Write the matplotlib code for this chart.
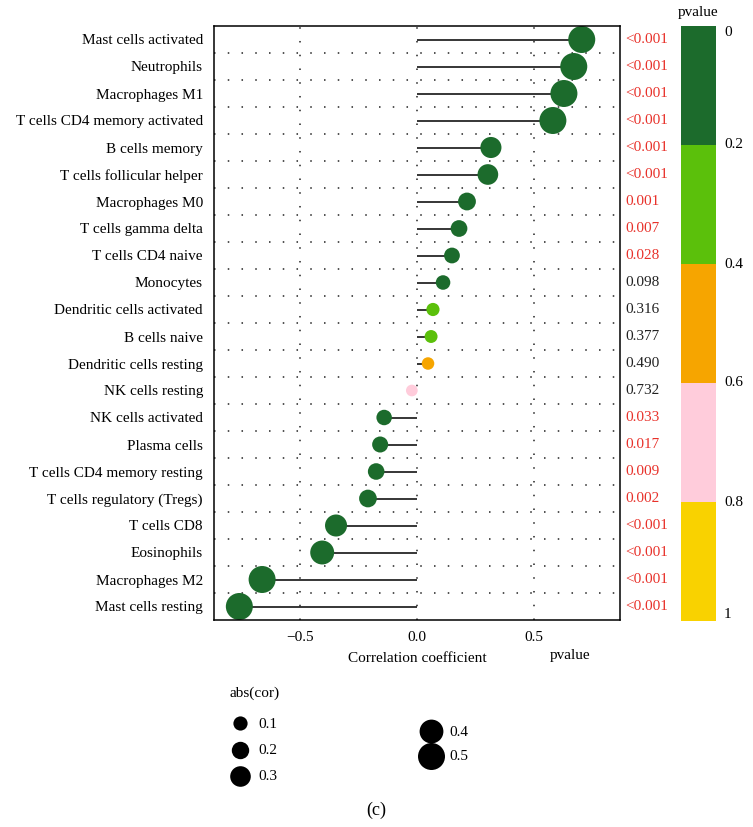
import numpy as np
import matplotlib.pyplot as plt
from matplotlib.colors import ListedColormap, BoundaryNorm

plt.rcParams["font.family"] = ["Liberation Serif", "DejaVu Serif"]

cells = [
    "Mast cells activated", "Neutrophils", "Macrophages M1",
    "T cells CD4 memory activated", "B cells memory", "T cells follicular helper",
    "Macrophages M0", "T cells gamma delta", "T cells CD4 naive", "Monocytes",
    "Dendritic cells activated", "B cells naive", "Dendritic cells resting",
    "NK cells resting", "NK cells activated", "Plasma cells",
    "T cells CD4 memory resting", "T cells regulatory (Tregs)", "T cells CD8",
    "Eosinophils", "Macrophages M2", "Mast cells resting",
]
cor = [0.702, 0.668, 0.626, 0.579, 0.315, 0.302, 0.213, 0.179, 0.149, 0.111,
       0.068, 0.060, 0.047, -0.022, -0.140, -0.157, -0.174, -0.209, -0.345,
       -0.404, -0.660, -0.757]
pvalue = [0.0005, 0.0005, 0.0005, 0.0005, 0.0005, 0.0005, 0.001, 0.007, 0.028,
          0.098, 0.316, 0.377, 0.490, 0.732, 0.033, 0.017, 0.009, 0.002,
          0.0005, 0.0005, 0.0005, 0.0005]
ptext = ["<0.001", "<0.001", "<0.001", "<0.001", "<0.001", "<0.001", "0.001",
         "0.007", "0.028", "0.098", "0.316", "0.377", "0.490", "0.732", "0.033",
         "0.017", "0.009", "0.002", "<0.001", "<0.001", "<0.001", "<0.001"]

bin_edges = [0, 0.2, 0.4, 0.6, 0.8, 1.0]
bin_colors = ["#1c6b2c", "#5bc00b", "#f6a500", "#ffccdb", "#f9d200"]
size_levels = [0.1, 0.2, 0.3, 0.4, 0.5]

cmap = ListedColormap(bin_colors)
norm = BoundaryNorm(bin_edges, cmap.N)
FS = 11


def dot_size(v):
    # diameter in px -> scatter area in pt^2 (dpi 100)
    d = 11 + 32 * np.minimum(np.abs(v), 0.5)
    return (d * 0.72) ** 2


W, H = 753, 827
fig = plt.figure(figsize=(W / 100, H / 100), dpi=100)
ax = fig.add_axes([214 / W, 1 - 620 / H, 406 / W, 594 / H])

n = len(cells)
y = np.arange(1, n + 1)
dots = (0, (1.0, 8.0))

for xv in [-0.5, 0, 0.5]:
    ax.axvline(xv, color="#222222", lw=1.1, linestyle=dots, zorder=0)
for yb in np.arange(1.5, n, 1):
    ax.axhline(yb, color="#222222", lw=1.1, linestyle=dots, zorder=0)

ax.hlines(y, 0, cor, color="black", lw=1.1, zorder=1)
ax.scatter(cor, y, s=dot_size(np.array(cor)), c=pvalue, cmap=cmap, norm=norm,
           linewidths=0, zorder=2)

ax.set_xlim(-0.865, 0.865)
ax.set_ylim(n + 0.5, 0.5)
ax.set_yticks(y, labels=cells, fontsize=FS)
ax.set_xticks([-0.5, 0, 0.5], labels=["\u22120.5", "0.0", "0.5"], fontsize=FS)
ax.tick_params(length=0, pad=8)
ax.set_xlabel("Correlation coefficient", fontsize=FS, labelpad=6)
for sp in ax.spines.values():
    sp.set_linewidth(1.1)

for yi, txt, p in zip(y, ptext, pvalue):
    ax.text(1.014, yi, txt, transform=ax.get_yaxis_transform(), ha="left",
            va="center", fontsize=FS, color="#e8312a" if p < 0.05 else "#222222")

fig.text(570 / W, 1 - 656 / H, "pvalue", ha="center", va="center", fontsize=FS)

# discrete colour bar
cax = fig.add_axes([681 / W, 1 - 621 / H, 35 / W, 595 / H])
for lo, hi, col in zip(bin_edges[:-1], bin_edges[1:], bin_colors):
    cax.axhspan(lo, hi, color=col, lw=0)
cax.set_ylim(1, 0)
cax.set_xlim(0, 1)
cax.axis("off")
for i, e in enumerate(bin_edges):
    lab = "0" if e == 0 else ("1" if e == 1 else f"{e:g}")
    va = "top" if i == 0 else ("bottom" if i == len(bin_edges) - 1 else "center")
    cax.text(1.23, e, lab, ha="left", va=va, fontsize=FS)
cax.text(0.5, -0.012, "pvalue", ha="center", va="bottom", fontsize=FS)

# size legend, in pixel coords
lax = fig.add_axes([0, 0, 1, 1])
lax.set_xlim(0, W)
lax.set_ylim(H, 0)
lax.axis("off")
lax.text(230, 693, "abs(cor)", ha="left", va="center", fontsize=FS)
leg_pos = [(240, 723), (240, 750), (240, 776), (431, 731), (431, 756)]
for (lx, ly), lv in zip(leg_pos, size_levels):
    lax.scatter([lx], [ly], s=dot_size(lv), color="black", linewidths=0)
    lax.text(lx + 18, ly + 1, f"{lv:g}", ha="left", va="center", fontsize=FS)
lax.text(376, 810, "(c)", ha="center", va="center", fontsize=13)

fig.savefig("out.png", dpi=100)
